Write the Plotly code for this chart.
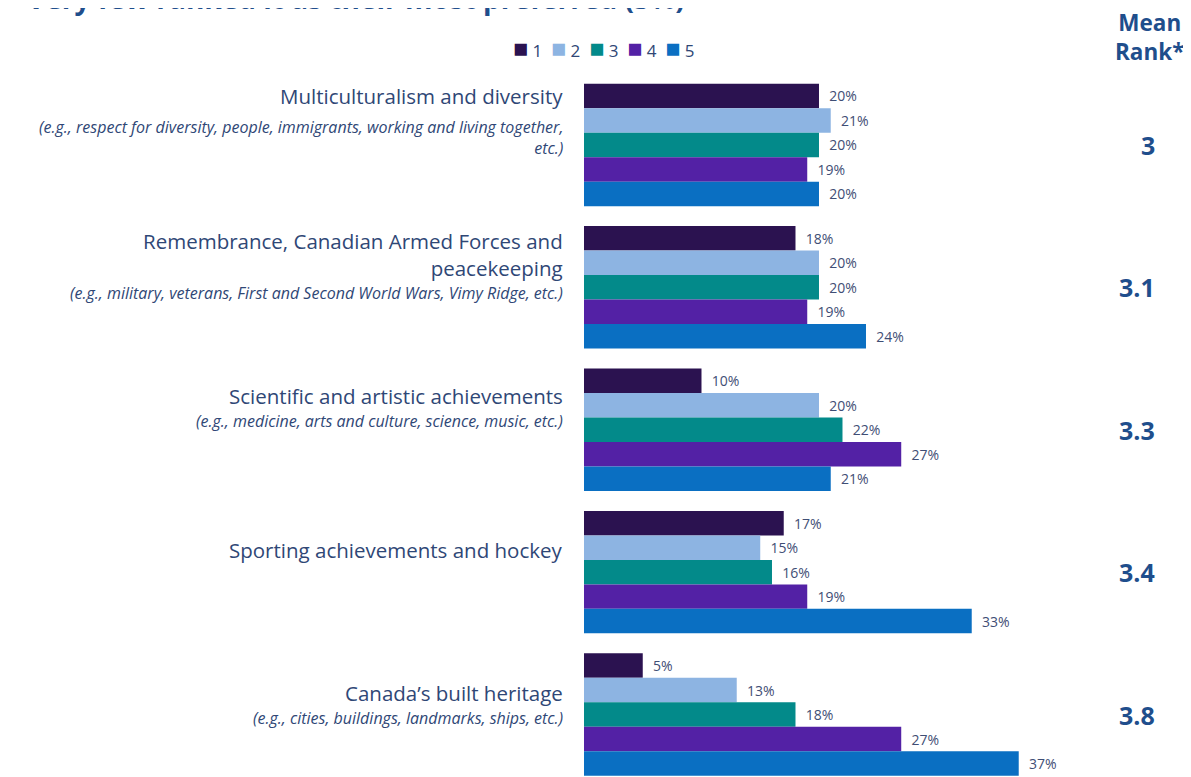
import plotly.graph_objects as go

categories = [
    "Multiculturalism and diversity",
    "Remembrance, Canadian Armed Forces and<br>peacekeeping",
    "Scientific and artistic achievements",
    "Sporting achievements and hockey",
    "Canada\u2019s built heritage",
]
examples = [
    "(e.g., respect for diversity, people, immigrants, working and living together,<br>etc.)",
    "(e.g., military, veterans, First and Second World Wars, Vimy Ridge, etc.)",
    "(e.g., medicine, arts and culture, science, music, etc.)",
    "",
    "(e.g., cities, buildings, landmarks, ships, etc.)",
]
rank_names = ["1", "2", "3", "4", "5"]
rank1 = [20, 18, 10, 17, 5]
rank2 = [21, 20, 20, 15, 13]
rank3 = [20, 20, 22, 16, 18]
rank4 = [19, 19, 27, 19, 27]
rank5 = [20, 24, 21, 33, 37]
mean_rank = ["3", "3.1", "3.3", "3.4", "3.8"]

series = [rank1, rank2, rank3, rank4, rank5]
colors = ["#2b1250", "#8db4e2", "#038a8a", "#5321a5", "#0a6fc2"]

FONT = "Open Sans"
TXT = "#2f4776"
HEAD = "#1f4e8c"

ypos = list(range(len(categories)))

fig = go.Figure()
for name, vals, col in zip(rank_names, series, colors):
    fig.add_trace(go.Bar(
        y=ypos, x=vals, name=name, orientation="h",
        marker=dict(color=col, line=dict(width=0)),
        text=["\u00a0\u00a0%d%%" % v for v in vals],
        textposition="outside", cliponaxis=False, constraintext="none",
        textfont=dict(family=FONT, size=14, color="#3f4e75"),
        showlegend=False,
    ))

title_shift = [49, 33, 34, 22, 22]
ex_shift = [7, -6, 9, 0, -3]
ann = []
for i, (c, e) in enumerate(zip(categories, examples)):
    ann.append(dict(xref="paper", yref="y", x=0, y=i, xanchor="right", yanchor="middle",
                    xshift=-19, yshift=title_shift[i], text=c, showarrow=False, align="right",
                    font=dict(family=FONT, size=20.5, color=TXT)))
    if e:
        ann.append(dict(xref="paper", yref="y", x=0, y=i, xanchor="right", yanchor="middle",
                        xshift=-19, yshift=ex_shift[i], text="<i>" + e + "</i>", showarrow=False,
                        align="right", font=dict(family=FONT, size=16, color=TXT)))
    ann.append(dict(xref="paper", yref="y", x=0.976, y=i, xanchor="right", yanchor="middle",
                    text="<b>" + mean_rank[i] + "</b>", showarrow=False,
                    font=dict(family=FONT, size=25, color=HEAD)))

# legend drawn as text
leg_parts = []
for name, col in zip(rank_names, colors):
    leg_parts.append("<span style='color:%s;font-size:25px'>\u25A0</span>\u00a0%s" % (col, name))
legend_text = "\u00a0\u00a0".join(leg_parts)
ann.append(dict(xref="paper", yref="paper", x=0.034, y=1.0325, xanchor="center", yanchor="middle",
                text=legend_text, showarrow=False,
                font=dict(family=FONT, size=17, color=TXT)))

ann.append(dict(xref="paper", yref="paper", x=0.9642, y=1.047, xanchor="center", yanchor="middle",
                text="<b>Mean<br>Rank*</b>", showarrow=False,
                font=dict(family=FONT, size=22.5, color=HEAD)))
ann.append(dict(xref="paper", yref="paper", x=-0.9523, y=1.0725, xanchor="left", yanchor="bottom",
                text="<b>Very few ranked it as their most preferred (5%)</b>", showarrow=False,
                font=dict(family=FONT, size=28, color=HEAD)))

fig.update_layout(
    width=1183, height=769,
    margin=dict(l=576, r=20, t=62, b=0),
    paper_bgcolor="white", plot_bgcolor="white",
    barmode="group", bargap=0.14, bargroupgap=0,
    xaxis=dict(range=[0, 49.96], visible=False, showgrid=False, zeroline=False),
    yaxis=dict(range=[4.4386, -0.526], visible=False, showgrid=False, zeroline=False),
    showlegend=False,
    annotations=ann,
)

fig.write_html("out.html")
